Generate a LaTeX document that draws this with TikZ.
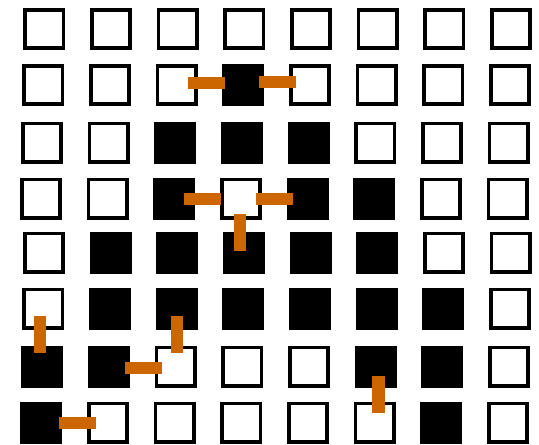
\documentclass[tikz,border=0pt]{standalone}
\definecolor{barorange}{RGB}{204,102,0}
\begin{document}
\begin{tikzpicture}[x=1pt,y=-1pt,
  wsq/.style={draw=black,fill=white,line width=3.7pt,minimum size=38.3pt,inner sep=0pt,outer sep=0pt},
  bsq/.style={fill=black,draw=none,minimum size=42pt,inner sep=0pt,outer sep=0pt},
  bar/.style={fill=barorange,draw=none}]
\useasboundingbox (0,0) rectangle (539,445);
\def\pat{{0,0,0,0,0,0,0,0,
          0,0,0,1,0,0,0,0,
          0,0,1,1,1,0,0,0,
          0,0,1,0,1,1,0,0,
          0,1,1,1,1,1,0,0,
          0,1,1,1,1,1,1,0,
          1,1,0,0,0,1,1,0,
          1,0,0,0,0,0,1,0}}
\foreach \r/\t/\o in {0/8/0, 1/64/-1, 2/121.7/-2.3, 3/177.7/-3.2, 4/231.7/-0.3, 5/287.7/-1, 6/345.7/-2.1, 7/401.7/-3.1}{
  \foreach \c in {0,...,7}{
    \pgfmathtruncatemacro\v{\pat[\r*8+\c]}
    \pgfmathsetmacro\xx{23.3+66.67*\c+\o+21}
    \pgfmathsetmacro\yy{\t+21}
    \ifnum\v=1
      \node[bsq] (c-\r-\c) at (\xx,\yy) {};
    \else
      \node[wsq] (c-\r-\c) at (\xx,\yy) {};
    \fi
  }
}
% orange bars
\fill[bar] (188.3,76.7) rectangle (225,88.7);
\fill[bar] (259.3,76) rectangle (295.7,88);
\fill[bar] (184.3,192.7) rectangle (220.7,204.7);
\fill[bar] (256,192.7) rectangle (292.7,204.7);
\fill[bar] (234.3,213.7) rectangle (246,250.7);
\fill[bar] (34,316.3) rectangle (46,353.3);
\fill[bar] (171,316.3) rectangle (183.3,353);
\fill[bar] (125.3,362) rectangle (162.3,374);
\fill[bar] (59,416.7) rectangle (96,429);
\fill[bar] (372.3,376) rectangle (384.7,412.7);
\end{tikzpicture}
\end{document}
